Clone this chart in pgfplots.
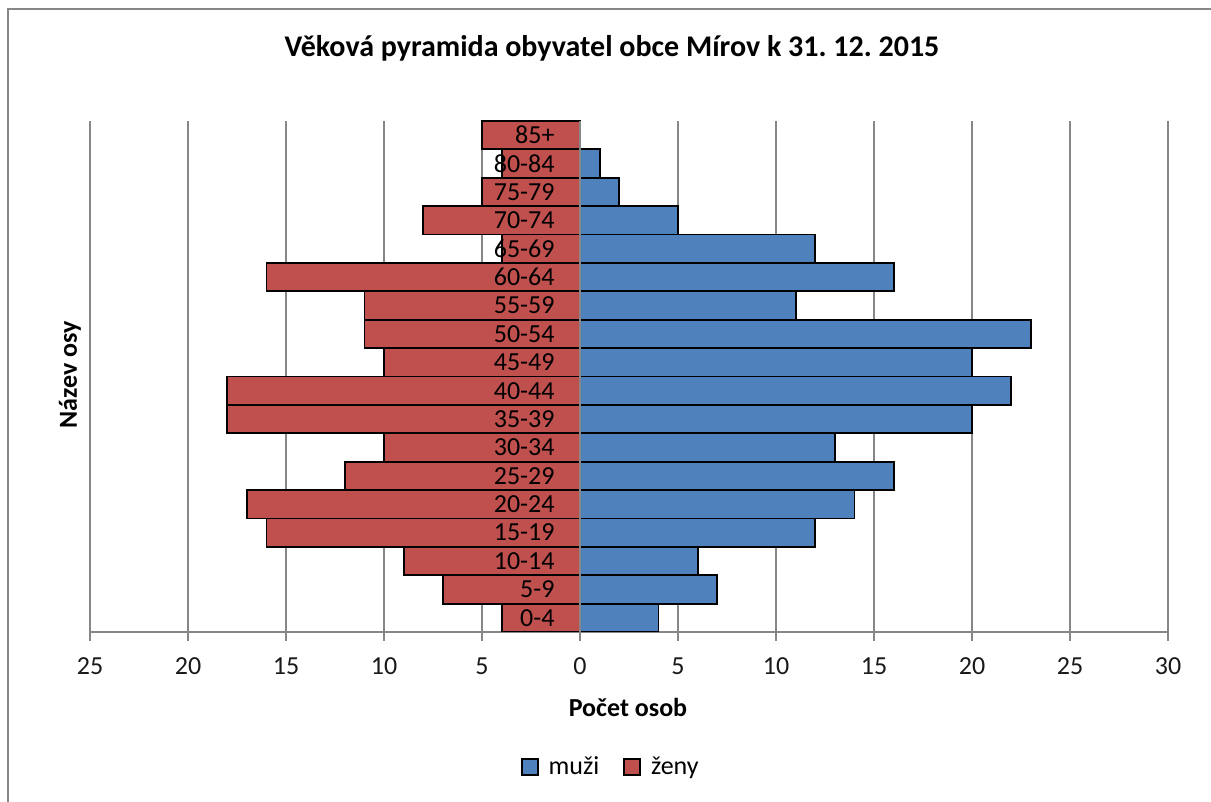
\documentclass[border=0pt]{standalone}
\usepackage{pgfplots}
\usepackage{pgfplotstable}
\pgfplotsset{compat=1.18}
\usepackage{fontspec}
\setmainfont{Carlito}
\frenchspacing
\definecolor{mblue}{HTML}{4F81BD}
\definecolor{fred}{HTML}{C0504D}
\definecolor{gridgray}{HTML}{878787}

\pgfplotstableread{
y label muzi zeny
0 0-4 4 -4
1 5-9 7 -7
2 10-14 6 -9
3 15-19 12 -16
4 20-24 14 -17
5 25-29 16 -12
6 30-34 13 -10
7 35-39 20 -18
8 40-44 22 -18
9 45-49 20 -10
10 50-54 23 -11
11 55-59 11 -11
12 60-64 16 -16
13 65-69 12 -4
14 70-74 5 -8
15 75-79 2 -5
16 80-84 1 -4
17 85+ 0 -5
}\data

\begin{document}
\begin{tikzpicture}
\useasboundingbox (-45pt,-85pt) rectangle (560.5pt,316pt);
\draw[gridgray, line width=1pt] (-41pt,-95pt) rectangle (570pt,311.5pt);
\begin{axis}[
  at={(0pt,0pt)}, anchor=south west,
  scale only axis, width=539pt, height=255.5pt,
  xmin=-25, xmax=30, ymin=-0.5, ymax=17.5,
  xtick={-25,-20,-15,-10,-5,0,5,10,15,20,25,30},
  xticklabels={25,20,15,10,5,0,5,10,15,20,25,30},
  ytick=\empty,
  axis x line=bottom, axis y line=none,
  axis line style={-, gridgray, line width=1pt},
  every outer x axis line/.append style={-},
  xmajorgrids, grid style={gridgray, line width=1pt},
  tick align=outside, major tick length=4.5pt,
  tick style={gridgray, line width=1pt},
  xticklabel style={font=\fontsize{13}{15}\selectfont, text=black!90, yshift=-5pt},
  legend style={at={(0.484,-0.264)}, anchor=center, draw=none, fill=none,
    legend columns=2, font=\fontsize{13}{15}\selectfont,
    /tikz/every even column/.append style={column sep=10pt}},
  legend image code/.code={\draw[#1, line width=0.9pt] (0pt,-4pt) rectangle (8pt,4pt); \path (11pt,0pt);},
]
\addplot[xbar, bar width=1, bar shift=0, fill=mblue, draw=black, line width=0.9pt]
  table[x=muzi, y=y] {\data};
\addplot[xbar, bar width=1, bar shift=0, fill=fred, draw=black, line width=0.9pt]
  table[x=zeny, y=y] {\data};
\draw[gridgray, line width=1pt] (axis cs:0,-0.5) -- (axis cs:0,17.5);
\addplot[only marks, mark=*, mark options={draw=none, fill=none}, mark size=0pt,
  nodes near coords, point meta=explicit symbolic,
  nodes near coords style={anchor=east, inner sep=0pt, font=\fontsize{13}{15}\selectfont, text=black}]
  table[x expr=-1.28, y=y, meta=label] {\data};
\legend{muži, ženy}
\end{axis}
\node[font=\fontsize{15}{18}\selectfont\bfseries] at (261pt,292pt) {Věková pyramida obyvatel obce Mírov k 31. 12. 2015};
\node[font=\fontsize{13}{15}\selectfont\bfseries, rotate=90] at (-10pt,128.5pt) {Název osy};
\node[font=\fontsize{13}{15}\selectfont\bfseries] at (269pt,-37.5pt) {Počet osob};
\end{tikzpicture}
\end{document}
